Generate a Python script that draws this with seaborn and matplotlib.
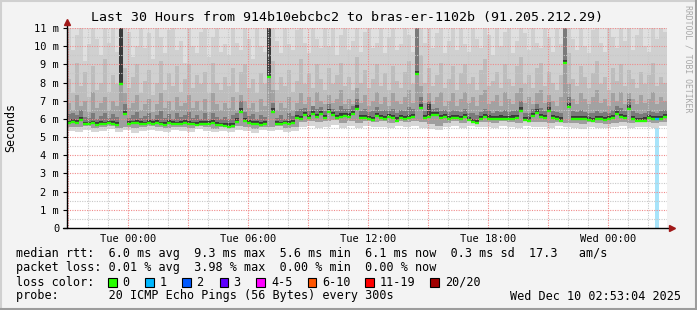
import numpy as np
import matplotlib
matplotlib.use("Agg")
import matplotlib.pyplot as plt
import seaborn as sns
from matplotlib.patches import Rectangle
from matplotlib.lines import Line2D

# ---------------- data (ms) ----------------
# time axis: hours relative to Tue 00:00, 12-minute steps
start_h = -3.05
step_h = 0.2

median_ms = [
    5.75, 5.85, 5.80, 5.95, 5.72, 5.70, 5.75, 5.68, 5.72, 5.70,
    5.75, 5.72, 5.68, 7.90, 6.25, 5.72, 5.75, 5.80, 5.72, 5.70,
    5.75, 5.72, 5.78, 5.70, 5.68, 5.75, 5.72, 5.70, 5.74, 5.78,
    5.72, 5.70, 5.68, 5.73, 5.70, 5.72, 5.75, 5.68, 5.65, 5.62,
    5.58, 5.62, 5.85, 6.40, 5.90, 5.80, 5.72, 5.70, 5.68, 5.72,
    8.28, 6.40, 5.72, 5.70, 5.75, 5.72, 5.78, 6.05, 6.00, 6.20,
    6.05, 6.25, 6.10, 6.25, 6.05, 6.38, 6.20, 6.05, 6.12, 6.15,
    6.12, 6.28, 6.55, 6.05, 6.05, 6.00, 5.95, 6.15, 6.05, 6.00,
    6.10, 6.05, 5.90, 6.05, 6.00, 6.05, 6.10, 8.45, 6.60, 6.05,
    6.10, 6.20, 6.22, 6.05, 6.10, 5.98, 6.05, 6.05, 6.00, 6.10,
    5.95, 5.85, 5.78, 6.00, 6.08, 6.02, 5.98, 6.00, 6.02, 6.00,
    5.98, 6.02, 6.05, 6.45, 5.92, 5.90, 6.15, 6.35, 6.10, 6.05,
    6.45, 6.05, 5.98, 5.90, 9.10, 6.65, 6.00, 5.98, 5.97, 5.98,
    5.95, 5.88, 5.98, 5.97, 5.96, 6.00, 6.05, 6.25, 6.10, 6.05,
    6.55, 6.00, 5.88, 5.87, 5.90, 6.05, 6.00, 5.98, 6.00, 6.10,
]

# upper smoke envelopes (lightest -> darkest)
smoke_u2 = [
    11.5, 9.8, 10.6, 11.5, 9.2, 10.1, 11.5, 10.4, 9.5, 11.0,
    10.2, 11.5, 9.7, 11.5, 11.5, 10.8, 9.4, 10.0, 11.5, 9.9,
    10.7, 9.3, 11.5, 10.5, 9.6, 10.9, 11.5, 9.8, 10.3, 9.1,
    11.5, 10.0, 9.6, 10.8, 11.5, 9.4, 10.5, 11.2, 9.7, 10.1,
    9.5, 11.5, 10.2, 9.8, 11.0, 10.4, 9.3, 11.5, 10.0, 9.7,
    11.5, 11.5, 10.3, 9.6, 11.5, 10.1, 9.8, 10.9, 11.5, 10.2,
    9.6, 11.5, 10.4, 9.9, 11.1, 10.0, 11.5, 9.5, 10.6, 11.5,
    9.8, 10.3, 11.5, 9.7, 10.8, 11.5, 9.9, 10.2, 11.3, 9.6,
    10.5, 11.5, 9.8, 10.1, 11.5, 10.6, 9.7, 11.5, 11.5, 10.2,
    11.5, 9.9, 10.7, 11.5, 9.6, 10.3, 11.0, 9.8, 11.5, 10.1,
    9.7, 11.5, 10.4, 9.9, 11.2, 10.6, 9.5, 11.5, 10.0, 10.8,
    11.5, 9.6, 10.3, 11.5, 10.7, 9.8, 11.5, 10.2, 9.9, 11.5,
    10.5, 9.7, 11.5, 10.1, 11.5, 11.5, 10.4, 9.8, 11.5, 10.0,
    9.6, 10.9, 11.5, 10.2, 9.7, 11.5, 10.5, 9.9, 11.5, 10.3,
    11.5, 9.8, 10.6, 11.5, 10.0, 9.7, 11.2, 10.4, 11.5, 10.8,
]
smoke_u3 = [
    8.2, 7.4, 9.1, 7.8, 8.6, 7.2, 8.9, 7.6, 8.0, 9.3,
    7.5, 8.4, 7.9, 11.5, 8.8, 7.7, 8.3, 9.0, 7.4, 8.1,
    8.7, 7.3, 8.0, 9.2, 7.6, 8.5, 7.8, 8.9, 7.5, 8.2,
    9.0, 7.7, 8.4, 7.9, 8.6, 7.4, 9.1, 8.0, 7.6, 8.3,
    7.8, 8.8, 7.5, 8.6, 9.0, 7.7, 8.2, 7.4, 8.5, 7.9,
    11.5, 9.2, 7.6, 8.3, 7.8, 8.7, 7.5, 8.1, 9.3, 7.9,
    8.5, 7.7, 9.0, 8.2, 7.6, 8.8, 7.9, 8.4, 9.1, 7.8,
    8.3, 7.6, 9.4, 8.0, 8.7, 7.7, 8.2, 9.0, 7.8, 8.5,
    7.6, 8.9, 8.1, 7.7, 8.6, 9.2, 7.9, 11.5, 9.5, 8.0,
    8.8, 7.8, 8.4, 9.1, 7.7, 8.2, 8.9, 7.6, 8.5, 9.0,
    7.9, 8.3, 7.6, 8.7, 9.3, 7.8, 8.1, 8.6, 7.7, 9.0,
    8.2, 7.8, 8.9, 9.4, 7.9, 8.4, 7.7, 8.8, 9.1, 7.8,
    8.6, 8.0, 7.6, 8.4, 11.5, 9.6, 8.2, 7.8, 8.9, 8.3,
    7.7, 8.5, 9.2, 7.9, 8.3, 7.6, 8.8, 8.1, 9.0, 7.8,
    8.7, 8.2, 7.7, 8.6, 7.9, 8.4, 9.1, 7.8, 8.3, 8.0,
]
smoke_u4 = [
    6.9, 6.5, 7.3, 6.7, 7.0, 6.4, 7.5, 6.6, 6.9, 7.2,
    6.5, 7.0, 6.7, 11.5, 7.4, 6.6, 6.9, 7.3, 6.5, 6.8,
    7.1, 6.4, 6.8, 7.4, 6.6, 7.0, 6.5, 7.2, 6.7, 6.9,
    7.3, 6.6, 7.0, 6.5, 7.1, 6.4, 7.4, 6.8, 6.5, 6.9,
    6.6, 7.2, 6.5, 7.3, 7.0, 6.6, 6.9, 6.4, 7.1, 6.7,
    11.5, 7.6, 6.5, 6.9, 6.6, 7.2, 6.5, 6.9, 7.4, 6.8,
    7.2, 6.7, 7.5, 7.0, 6.8, 7.3, 6.9, 7.1, 7.6, 6.8,
    7.1, 6.8, 7.7, 6.9, 7.3, 6.7, 7.0, 7.5, 6.8, 7.2,
    6.7, 7.4, 7.0, 6.8, 7.2, 7.6, 6.9, 11.5, 7.8, 6.9,
    7.4, 6.8, 7.2, 7.5, 6.7, 7.0, 7.4, 6.7, 7.1, 7.5,
    6.9, 7.2, 6.7, 7.3, 7.6, 6.8, 7.0, 7.3, 6.7, 7.5,
    7.1, 6.8, 7.4, 7.7, 6.9, 7.2, 6.8, 7.4, 7.6, 6.9,
    7.3, 7.0, 6.7, 7.2, 11.5, 7.9, 7.1, 6.8, 7.4, 7.1,
    6.8, 7.2, 7.6, 6.9, 7.1, 6.7, 7.4, 7.0, 7.5, 6.8,
    7.4, 7.1, 6.8, 7.3, 6.9, 7.1, 7.5, 6.8, 7.2, 7.0,
]
smoke_u5 = [
    6.25, 6.35, 6.20, 6.50, 6.10, 6.05, 6.30, 6.00, 6.15, 6.35,
    6.05, 6.25, 6.10, 11.5, 6.80, 6.05, 6.20, 6.40, 6.05, 6.15,
    6.35, 6.00, 6.20, 6.45, 6.05, 6.25, 6.00, 6.30, 6.10, 6.20,
    6.40, 6.05, 6.20, 6.00, 6.30, 5.98, 6.35, 6.10, 6.00, 6.10,
    6.00, 6.20, 6.30, 7.00, 6.40, 6.15, 6.25, 6.00, 6.20, 6.10,
    11.5, 6.90, 6.05, 6.20, 6.00, 6.30, 6.15, 6.45, 6.55, 6.60,
    6.45, 6.70, 6.55, 6.65, 6.45, 6.80, 6.55, 6.45, 6.70, 6.55,
    6.55, 6.70, 7.10, 6.45, 6.55, 6.40, 6.45, 6.65, 6.45, 6.50,
    6.45, 6.55, 6.35, 6.50, 6.45, 6.65, 6.55, 11.5, 7.20, 6.45,
    7.00, 6.55, 6.60, 6.45, 6.50, 6.40, 6.50, 6.45, 6.40, 6.55,
    6.35, 6.30, 6.20, 6.40, 6.55, 6.45, 6.35, 6.45, 6.40, 6.50,
    6.40, 6.45, 6.50, 7.00, 6.35, 6.30, 6.55, 6.80, 6.60, 6.45,
    6.95, 6.45, 6.40, 6.30, 11.5, 7.20, 6.45, 6.40, 6.50, 6.40,
    6.35, 6.30, 6.45, 6.35, 6.40, 6.30, 6.50, 6.70, 6.60, 6.45,
    7.10, 6.45, 6.30, 6.25, 6.35, 6.50, 6.40, 6.35, 6.45, 6.50,
]
smoke_u6 = [
    5.90, 6.00, 5.95, 6.10, 5.85, 5.85, 5.90, 5.82, 5.88, 5.85,
    5.90, 5.88, 5.85, 11.5, 6.45, 5.88, 5.90, 5.95, 5.88, 5.85,
    5.92, 5.87, 5.95, 5.85, 5.83, 5.92, 5.88, 5.85, 5.90, 5.95,
    5.88, 5.85, 5.83, 5.90, 5.86, 5.88, 5.92, 5.83, 5.80, 5.78,
    5.75, 5.78, 6.05, 6.60, 6.05, 5.95, 5.88, 5.86, 5.83, 5.88,
    11.5, 6.60, 5.88, 5.85, 5.90, 5.88, 5.95, 6.22, 6.18, 6.40,
    6.22, 6.42, 6.28, 6.42, 6.22, 6.55, 6.38, 6.22, 6.30, 6.32,
    6.30, 6.45, 6.75, 6.22, 6.22, 6.18, 6.12, 6.32, 6.22, 6.18,
    6.28, 6.22, 6.08, 6.22, 6.18, 6.22, 6.28, 8.65, 6.80, 6.22,
    6.80, 6.38, 6.40, 6.22, 6.28, 6.15, 6.22, 6.22, 6.18, 6.28,
    6.12, 6.02, 5.95, 6.18, 6.25, 6.20, 6.15, 6.18, 6.20, 6.18,
    6.15, 6.20, 6.22, 6.65, 6.10, 6.08, 6.32, 6.52, 6.28, 6.22,
    6.65, 6.22, 6.15, 6.08, 9.25, 6.85, 6.18, 6.15, 6.14, 6.15,
    6.12, 6.05, 6.15, 6.14, 6.13, 6.18, 6.22, 6.42, 6.28, 6.22,
    6.75, 6.18, 6.05, 6.04, 6.08, 6.22, 6.18, 6.15, 6.18, 6.28,
]

# lower smoke envelopes, 24-minute steps
lo_step_h = 0.4
smoke_lo_outer = [
    5.35, 5.30, 5.40, 5.28, 5.35, 5.42, 5.30, 5.38, 5.25, 5.35,
    5.40, 5.32, 5.28, 5.38, 5.35, 5.30, 5.42, 5.33, 5.27, 5.36,
    5.30, 5.40, 5.35, 5.25, 5.38, 5.32, 5.40, 5.30, 5.36,
    5.55, 5.62, 5.50, 5.58, 5.65, 5.52, 5.60, 5.48, 5.62, 5.55, 5.58,
    5.50, 5.63, 5.56, 5.60, 5.52, 5.45, 5.40, 5.55, 5.60, 5.52,
    5.62, 5.55, 5.58, 5.50, 5.60, 5.56, 5.48, 5.62, 5.55, 5.58,
    5.52, 5.60, 5.55, 5.50, 5.45, 5.58, 5.52, 5.48, 5.55, 5.60,
    5.50, 5.55, 5.58, 5.52, 5.60,
]
smoke_lo_inner = [
    5.58, 5.55, 5.62, 5.50, 5.57, 5.60, 5.52, 5.58, 5.48, 5.55,
    5.60, 5.54, 5.50, 5.58, 5.56, 5.52, 5.60, 5.55, 5.47, 5.57,
    5.52, 5.60, 5.56, 5.45, 5.58, 5.54, 5.60, 5.52, 5.56,
    5.85, 5.90, 5.82, 5.88, 5.92, 5.80, 5.87, 5.78, 5.90, 5.84,
    5.88, 5.80, 5.90, 5.85, 5.88, 5.82, 5.72, 5.62, 5.80, 5.86,
    5.80, 5.88, 5.82, 5.85, 5.78, 5.86, 5.83, 5.75, 5.88, 5.82,
    5.85, 5.78, 5.84, 5.80, 5.75, 5.70, 5.82, 5.78, 5.74, 5.80,
    5.84, 5.78, 5.82, 5.85, 5.80, 5.84,
]

# packet loss (index of 12-min step -> lost pings of 20)
loss_index = [147]
loss_count = [1]

x_tick_hours = [0, 6, 12, 18, 24]
x_tick_labels = ["Tue 00:00", "Tue 06:00", "Tue 12:00", "Tue 18:00", "Wed 00:00"]
y_ticks = list(range(12))
y_tick_labels = ["0"] + [f"{v} m" for v in range(1, 12)]

loss_legend_labels = ["0", "1", "2", "3", "4-5", "6-10", "11-19", "20/20"]
loss_legend_colors = ["#26ff00", "#00b8ff", "#0059ff", "#5e00ff",
                      "#ff00ff", "#ff5500", "#ff0000", "#a10000"]

title = "Last 30 Hours from 914b10ebcbc2 to bras-er-1102b (91.205.212.29)"
row_rtt = "median rtt:  6.0 ms avg  9.3 ms max  5.6 ms min  6.1 ms now  0.3 ms sd  17.3   am/s"
row_loss = "packet loss: 0.01 % avg  3.98 % max  0.00 % min  0.00 % now"
row_probe = "probe:       20 ICMP Echo Pings (56 Bytes) every 300s"
stamp = "Wed Dec 10 02:53:04 2025"

# ---------------- style ----------------
sns.set_theme(style="white")
plt.rcParams["font.family"] = ["DejaVu Sans Mono"]
plt.rcParams["text.color"] = "black"

W, H = 697, 310
fig = plt.figure(figsize=(W / 100, H / 100), dpi=100, facecolor="#f3f3f3")
ax = fig.add_axes([67 / W, 82 / H, 600 / W, 200 / H])
ax.set_facecolor("white")


def stepped(x0, dt, vals):
    v = np.asarray(vals, float)
    x = x0 + dt * np.arange(len(v) + 1)
    return x, np.append(v, v[-1])


TOP = 11.6
xm, med = stepped(start_h, step_h, median_ms)
xl, lo_o = stepped(start_h, lo_step_h, smoke_lo_outer)
_, lo_i = stepped(start_h, lo_step_h, smoke_lo_inner)

# loss background bar
for idx, cnt in zip(loss_index, loss_count):
    x0 = start_h + idx * step_h
    ax.axvspan(x0, x0 + step_h, color="#a8e4fa", lw=0, zorder=0.5)

# lower smoke
ax.fill_between(xl, lo_o, TOP, step="post", color="#d6d6d6", lw=0, zorder=1)
ax.fill_between(xl, lo_i, TOP, step="post", color="#9e9e9e", lw=0, zorder=1.1)
# upper smoke
ax.fill_between(xm, med, TOP, step="post", color="#e0e0e0", lw=0, zorder=1.2)
layers = [(smoke_u2, "#d0d0d0"), (smoke_u3, "#bdbdbd"), (smoke_u4, "#a2a2a2"),
          (smoke_u5, "#7a7a7a"), (smoke_u6, "#3a3a3a")]
for k, (arr, col) in enumerate(layers):
    _, up = stepped(start_h, step_h, arr)
    ax.fill_between(xm, med, up, step="post", color=col, lw=0, zorder=1.3 + 0.1 * k)

# grid
dot = (0, (1, 1.2))
for h in range(-3, 27):
    major = (h % 3 == 0)
    ax.axvline(h, color="#f08a8a" if major else "#c8c8c8", lw=0.8, ls=dot,
               zorder=3 if major else 2.9)
for yv in np.arange(0.5, 11.01, 0.5):
    major = float(yv).is_integer()
    ax.axhline(yv, color="#f08a8a" if major else "#c8c8c8", lw=0.8, ls=dot,
               zorder=3 if major else 2.9)

# median line as short horizontal segments coloured by loss
colors = ["#26ff00"] * len(median_ms)
for idx, cnt in zip(loss_index, loss_count):
    colors[idx] = loss_legend_colors[cnt]
ax.hlines(median_ms, xm[:-1], xm[1:], colors=colors, lw=1.7, zorder=4)

ax.set_xlim(start_h, start_h + 30)
ax.set_ylim(0, 11)
for s in ax.spines.values():
    s.set_visible(False)

ax.set_xticks(x_tick_hours)
ax.set_xticklabels(x_tick_labels)
ax.set_yticks(y_ticks)
ax.set_yticklabels(y_tick_labels)
ax.tick_params(axis="x", length=0, pad=4.5, labelsize=7.5, colors="black")
ax.tick_params(axis="y", length=3, width=0.8, pad=2.6, labelsize=7.5,
               colors="black", left=True)
ax.grid(False)

# axes lines + arrows
ax.add_line(Line2D([0, 0], [0, 1.03], transform=ax.transAxes, color="black",
                   lw=1, clip_on=False, zorder=5))
ax.add_line(Line2D([-0.007, 1.006], [0, 0], transform=ax.transAxes, color="black",
                   lw=1, clip_on=False, zorder=5))
ax.plot([0], [1.032], marker="^", ms=4.5, color="#a01818", transform=ax.transAxes,
        clip_on=False, zorder=6)
ax.plot([1.008], [0], marker=">", ms=4.5, color="#a01818", transform=ax.transAxes,
        clip_on=False, zorder=6)


def fx(px):
    return px / W


def fy(py):
    return 1 - py / H


fig.text(fx(347), fy(18), title, ha="center", va="center", fontsize=9.5)
fig.text(fx(10.5), fy(128), "Seconds", rotation=90, ha="center", va="center", fontsize=8.4)
fig.text(fx(688), fy(59), "RRDTOOL / TOBI OETIKER", rotation=270, ha="center",
         va="center", fontsize=5.9, color="#a8a8a8")

LFS = 8.5
fig.text(fx(16), fy(254), row_rtt, ha="left", va="center", fontsize=LFS)
fig.text(fx(16), fy(268), row_loss, ha="left", va="center", fontsize=LFS)
fig.text(fx(16), fy(282), "loss color:", ha="left", va="center", fontsize=LFS)
fig.text(fx(16), fy(296), row_probe, ha="left", va="center", fontsize=LFS)
fig.text(fx(681), fy(296), stamp, ha="right", va="center", fontsize=LFS)

box_x = [108, 145, 182, 220, 256, 307.5, 365, 430]
lab_x = [122.5, 159.5, 196.5, 233.5, 271, 322.5, 379.5, 445]
for bx, lx, lab, col in zip(box_x, lab_x, loss_legend_labels, loss_legend_colors):
    fig.patches.append(Rectangle((fx(bx), fy(286.5)), 8.5 / W, 8.5 / H,
                                 transform=fig.transFigure, facecolor=col,
                                 edgecolor="black", lw=0.8))
    fig.text(fx(lx), fy(282), lab, ha="left", va="center", fontsize=LFS)

# frame
fig.add_artist(Line2D([0, 1], [1 - 0.5 / H, 1 - 0.5 / H], transform=fig.transFigure,
                      color="#d0d0d0", lw=1.5))
fig.add_artist(Line2D([0.5 / W, 0.5 / W], [0, 1], transform=fig.transFigure,
                      color="#d0d0d0", lw=1.5))
fig.add_artist(Line2D([0, 1], [1 / H, 1 / H], transform=fig.transFigure,
                      color="#9c9c9c", lw=1.5))
fig.add_artist(Line2D([1 - 1 / W, 1 - 1 / W], [0, 1], transform=fig.transFigure,
                      color="#9c9c9c", lw=1.5))

fig.savefig("out.png", dpi=100, facecolor=fig.get_facecolor())
